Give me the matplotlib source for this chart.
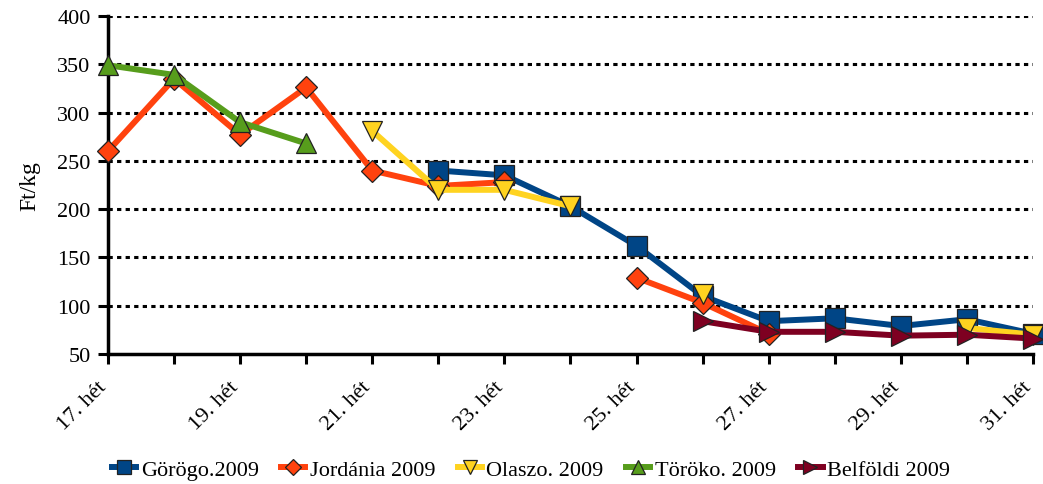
import numpy as np
import matplotlib
matplotlib.use("Agg")
import matplotlib.pyplot as plt
from matplotlib.transforms import ScaledTranslation

plt.rcParams['font.family'] = ['Liberation Serif', 'DejaVu Serif']

weeks = list(range(17, 32))
nan = np.nan
gorogo = [nan, nan, nan, nan, nan, 240, 235, 203, 162, 110, 84, 87, 79, 86, 71]
jordania = [260, 335, 277, 326, 240, 224, 228, nan, 129, 103, 71, nan, nan, nan, nan]
olaszo = [nan, nan, nan, nan, 281, 220, 220, 203, nan, 112, nan, nan, nan, 77, 70]
toroko = [349, 339, 290, 268, nan, nan, nan, nan, nan, nan, nan, nan, nan, nan, nan]
belfoldi = [nan, nan, nan, nan, nan, nan, nan, nan, nan, 84, 73, 73, 69, 70, 66]

series = [
    ("Görögo.2009", gorogo, "#004586", "s", 14),
    ("Jordánia 2009", jordania, "#FF420E", "D", 11.5),
    ("Olaszo. 2009", olaszo, "#FFD320", "v", 14),
    ("Töröko. 2009", toroko, "#579D1C", "^", 14),
    ("Belföldi 2009", belfoldi, "#7E0021", ">", 14),
]

fig = plt.figure(figsize=(10.43, 4.85), dpi=100)
ax = fig.add_axes([0.1035, 0.268, 0.8869, 0.697])

for name, vals, col, mk, ms in series:
    ax.plot(weeks, vals, color=col, lw=4.3, marker=mk, markersize=ms,
            markerfacecolor=col, markeredgecolor='#222222', markeredgewidth=0.9,
            label=name, clip_on=False, zorder=3)

ax.set_xlim(17, 31)
ax.set_ylim(50, 400)
ax.set_yticks(range(50, 401, 50))
ax.set_xticks(weeks)
ax.set_xticklabels([f"{w}. hét" if w % 2 == 1 else "" for w in weeks],
                   rotation=45, ha='right', va='center', rotation_mode='anchor', fontsize=16)
ax.tick_params(axis='y', labelsize=16, direction='out', length=7.5, width=2.2, pad=5)
ax.tick_params(axis='x', direction='out', length=7.5, width=2.2, pad=14)
offset = ScaledTranslation(-3 / 72, 0, fig.dpi_scale_trans)
for lab in ax.get_xticklabels():
    lab.set_transform(lab.get_transform() + offset)
for t in ax.get_yticks():
    if t > 50:
        ax.axhline(t, color='black', ls=(0, (1.4, 1.4)), lw=2.2, zorder=1)
for s in ['top', 'right']:
    ax.spines[s].set_visible(False)
for s in ['left', 'bottom']:
    ax.spines[s].set_linewidth(2.5)
ax.set_ylabel("Ft/kg", fontsize=17, labelpad=12)

fig.legend(loc='center', bbox_to_anchor=(0.509, 0.03), ncol=5, frameon=False,
           fontsize=16, handlelength=1.1, handletextpad=0.2, columnspacing=1.0,
           markerscale=0.7, borderpad=0.1)

fig.savefig("out.png", dpi=100)
